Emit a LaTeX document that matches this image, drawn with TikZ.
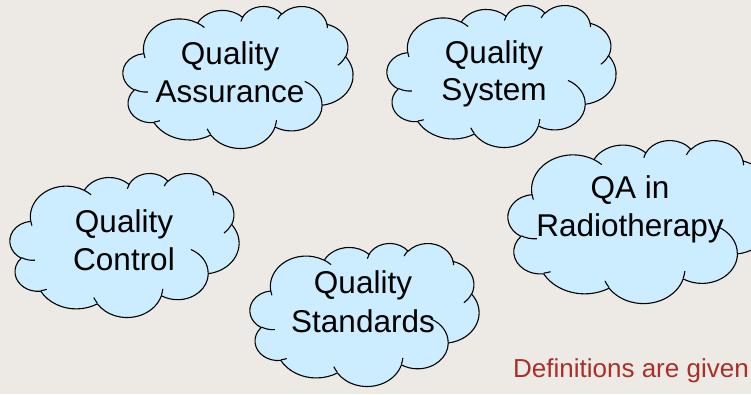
\documentclass[tikz,border=0pt]{standalone}
\usepackage{fontspec}
\setmainfont{Liberation Sans}
\definecolor{bg}{RGB}{237,234,229}
\definecolor{cloudfill}{RGB}{204,236,255}
\definecolor{defred}{RGB}{168,48,40}
\tikzset{
  declare function={pa(\a,\w,\h)=atan2(\w*sin(\a),\h*cos(\a));},
  cloudline/.style={draw=black, line width=1.1pt, line join=round},
  labeltext/.style={font=\fontsize{31.5}{38}\selectfont, inner sep=0pt, anchor=base},
  deftext/.style={font=\fontsize{26}{30}\selectfont, inner sep=0pt, anchor=base west, text=defred},
}
% arc in the manner of DrawingML arcTo: radii, start angle, sweep (degrees)
\newcommand\carc[4]{arc[start angle={pa(#3,#1,#2)}, delta angle={mod(pa(#3+#4,#1,#2)-pa(#3,#1,#2)+720,360)}, x radius=#1, y radius=#2]}
\newcommand\drawcloud[5]{%
  \begin{scope}[shift={(#1,#2)}, xscale=#3/432, yscale=#4/432]
    \path[cloudline, fill=cloudfill] (39,143.7)
      \carc{67.53}{91.90}{-190.48748}{123.78053}
      \carc{53.33}{72.67}{-144.10238}{89.94523}
      \carc{43.65}{59.45}{-145.80792}{99.72302}
      \carc{48.57}{65.95}{-130.98607}{117.24173}
      \carc{53.33}{72.73}{-78.70888}{109.02692}
      \carc{67.75}{92.20}{-46.26725}{130.269}
      \carc{57.85}{78.67}{0.62502}{114.03333}
      \carc{67.52}{92.15}{22.4516}{115.17255}
      \carc{77.20}{105.43}{66.24263}{75.71102}
      \carc{43.60}{59.18}{-274.94208}{146.73557}
      \carc{43.45}{59.45}{-246.8285}{152.51885}
      -- cycle;
    \path[cloudline]
      (46.93,261.77) \carc{43.45}{59.45}{86.742}{26.4295}
      (69.28,348.99) \carc{43.60}{59.18}{73.61047}{11.44747}
      (164.78,390.90) \carc{67.52}{92.15}{137.62415}{14.0811}
      (288.27,347.51) \carc{67.52}{92.15}{6.45327}{15.99835}
      (341.29,229.54) \carc{57.85}{78.67}{-70.29235}{70.91737}
      (417.98,153.54) \carc{53.33}{72.73}{30.31803}{27.7515}
      (383.24,54.26) \carc{48.57}{65.95}{-13.74433}{14.8589}
      (290.78,39.52) \carc{48.57}{65.95}{-149.18145}{18.19537}
      (221.41,47.20) \carc{43.65}{59.45}{-163.49427}{17.68635}
      (140.00,51.92) \carc{67.53}{91.90}{-66.70695}{12.31935}
      (41.27,157.89) \carc{67.53}{91.90}{157.65435}{11.85817};
    \coordinate (#5) at (216,216);
  \end{scope}}
\begin{document}
\begin{tikzpicture}[x=1pt, y=1pt, yscale=-1]
  \fill[bg] (0,0) rectangle (751,394);
  \useasboundingbox (0,0) rectangle (751,394);
  \drawcloud{123}{6}{230}{142}{cqa}
  \drawcloud{387}{5}{229}{142}{cqs}
  \drawcloud{508}{140}{265}{163}{crt}
  \drawcloud{10}{173}{229}{144}{cqc}
  \drawcloud{250}{243}{229}{143}{cstd}
  \node[labeltext] (qa1) at (230,64) {Quality};
  \node[labeltext] (qa2) at (230,102) {Assurance};
  \node[labeltext] (qs1) at (494,63) {Quality};
  \node[labeltext] (qs2) at (494,100) {System};
  \node[labeltext] (rt1) at (630,198) {QA in};
  \node[labeltext] (rt2) at (630,236) {Radiotherapy};
  \node[labeltext] (qc1) at (124,232) {Quality};
  \node[labeltext] (qc2) at (124,270) {Control};
  \node[labeltext] (st1) at (363,293) {Quality};
  \node[labeltext] (st2) at (363,332) {Standards};
  \node[deftext] (def) at (513,377) {Definitions are given};
\end{tikzpicture}
\end{document}
